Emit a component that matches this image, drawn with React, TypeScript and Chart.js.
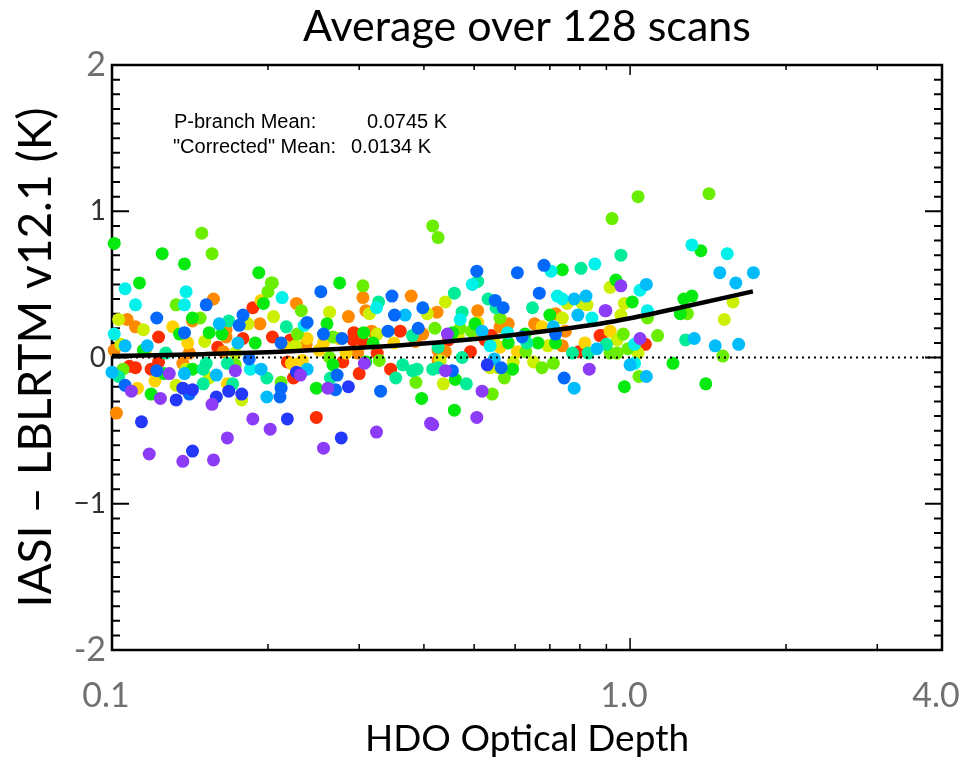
import React, { useEffect, useRef } from 'react';
import { Chart, registerables } from 'chart.js';

Chart.register(...registerables);

// ---- Text ----
const TITLE = 'Average over 128 scans';
const X_TITLE = 'HDO Optical Depth';
const Y_TITLE = 'IASI – LBLRTM v12.1 (K)';
const NOTE_LABELS = ['P-branch Mean:', '"Corrected" Mean:'];
const NOTE_VALUES = ['0.0745 K', '0.0134 K'];

// ---- Axes ----
const X_MIN = 0.1;
const X_MAX = 4.0;
const Y_MIN = -2;
const Y_MAX = 2;
const X_TICKS = [0.1, 0.2, 0.3, 0.4, 0.5, 0.6, 0.7, 0.8, 0.9, 1, 2, 3, 4];
const X_MAJOR = [0.1, 1];
const X_LABELED = [0.1, 1, 4];
const X_LABEL_TEXT = ['0.1', '1.0', '4.0'];
const Y_LABELED = [2, 1, 0, -1, -2];
const Y_LABEL_TEXT = ['2', '1', '0', '−1', '-2'];

// ---- Fit curve and zero reference ----
const FIT_X = [0.1, 0.15, 0.2, 0.3, 0.425, 0.6, 0.886, 1.0, 1.265, 1.726];
const FIT_Y = [0.01, 0.023, 0.036, 0.066, 0.103, 0.155, 0.234, 0.268, 0.345, 0.452];
const ZERO_X = [0.1, 4.0];
const ZERO_Y = [0, 0];

// ---- Scatter points, grouped by colour: [optical depth, difference K] ----
const PURPLE = [[0.129,-0.11],[0.109,-0.23],[0.124,-0.28],[0.156,-0.32],[0.173,-0.09],[0.118,-0.66],[0.137,-0.71],[0.157,-0.70],[0.167,-0.55],[0.187,-0.42],[0.202,-0.49],[0.231,-0.12],[0.307,-0.04],[0.261,-0.21],[0.256,-0.62],[0.324,-0.51],[0.412,-0.45],[0.416,-0.46],[0.444,0.16],[0.440,-0.09],[0.518,-0.23],[0.506,-0.41],[0.895,0.32],[0.834,-0.08],[0.96,0.49],[0.898,0.32],[1.045,0.13]];
const BLUE = [[0.137,-0.21],[0.133,-0.29],[0.143,-0.22],[0.159,-0.27],[0.168,-0.23],[0.178,-0.25],[0.114,-0.44],[0.143,-0.64],[0.227,-0.10],[0.286,-0.20],[0.218,-0.42],[0.277,-0.55],[0.530,-0.05]];
const AZURE = [[0.152,0.36],[0.122,0.27],[0.138,0.17],[0.179,0.29],[0.176,0.22],[0.184,-0.01],[0.122,-0.09],[0.106,-0.19],[0.141,-0.25],[0.253,0.45],[0.347,0.42],[0.351,0.29],[0.398,0.34],[0.238,0.24],[0.212,0.10],[0.256,0.16],[0.278,0.13],[0.341,0.18],[0.390,0.20],[0.272,-0.12],[0.212,-0.21],[0.211,-0.27],[0.270,-0.22],[0.330,-0.23],[0.506,0.59],[0.549,0.39],[0.569,0.34],[0.454,-0.09],[0.564,-0.07],[0.606,0.58],[0.668,0.44],[0.682,0.63],[0.619,0.14],[0.718,0.16],[0.746,-0.14]];
const SKY = [[0.161,0.23],[0.175,0.10],[0.106,0.08],[0.117,0.08],[0.100,-0.10],[0.138,-0.11],[0.159,-0.12],[0.194,-0.08],[0.199,-0.27],[0.368,0.29],[0.238,-0.08],[0.518,0.18],[0.547,-0.01],[0.780,0.40],[0.822,0.42],[0.793,0.29],[0.711,0.21],[0.863,0.06],[0.780,-0.21],[1.49,0.58],[1.60,0.51],[1.73,0.58],[1.075,0.50],[1.33,0.13],[1.46,0.08],[1.62,0.09],[1.00,-0.05],[1.075,-0.13]];
const CYAN = [[0.106,0.47],[0.111,0.36],[0.139,0.45],[0.138,0.36],[0.101,0.16],[0.185,-0.08],[0.213,0.41],[0.324,0.34],[0.235,0.22],[0.496,0.50],[0.470,0.26],[0.580,0.17],[0.537,0.08],[0.704,0.59],[0.855,0.64],[0.724,0.42],[0.740,0.40],[0.844,0.27],[1.316,0.77],[1.54,0.71],[1.045,0.46],[1.08,0.32],[1.02,0.09],[1.02,-0.04]];
const AQUA = [[0.168,0.25],[0.127,0.03],[0.103,-0.13],[0.150,-0.08],[0.152,-0.04],[0.150,-0.18],[0.167,-0.04],[0.171,-0.18],[0.199,-0.14],[0.327,0.38],[0.217,0.21],[0.380,0.15],[0.264,-0.14],[0.353,-0.14],[0.364,-0.05],[0.380,-0.09],[0.388,-0.08],[0.416,-0.08],[0.426,0.07],[0.508,0.52],[0.458,0.44],[0.474,0.31],[0.532,0.40],[0.551,0.34],[0.474,0.00],[0.426,-0.07],[0.483,-0.18],[0.648,0.34],[0.804,0.61],[0.632,0.10],[0.774,0.03],[0.830,0.03],[0.96,0.70],[0.90,0.09],[1.28,0.12]];
const GREEN = [[0.101,0.78],[0.125,0.71],[0.138,0.64],[0.113,0.51],[0.192,0.58],[0.196,0.37],[0.135,0.16],[0.143,0.27],[0.154,0.17],[0.163,0.16],[0.189,0.10],[0.115,0.05],[0.126,-0.11],[0.119,-0.25],[0.143,-0.08],[0.275,0.51],[0.260,0.23],[0.306,0.17],[0.319,0.10],[0.267,-0.05],[0.309,-0.03],[0.248,-0.21],[0.396,-0.28],[0.502,0.23],[0.454,0.17],[0.460,-0.15],[0.582,0.10],[0.593,-0.08],[0.458,-0.36],[0.740,0.60],[0.700,0.29],[0.627,0.16],[0.664,0.10],[0.718,0.10],[1.37,0.73],[0.939,0.53],[1.01,0.38],[1.27,0.40],[1.316,0.42],[1.25,0.30],[1.21,-0.04],[0.975,-0.20],[1.40,-0.18]];
const LIME = [[0.149,0.85],[0.156,0.71],[0.133,0.36],[0.203,0.51],[0.200,0.45],[0.148,0.27],[0.105,-0.08],[0.173,-0.05],[0.416,0.90],[0.426,0.82],[0.204,0.51],[0.305,0.49],[0.232,0.32],[0.228,0.16],[0.267,0.14],[0.420,0.20],[0.263,0.00],[0.328,-0.02],[0.386,-0.17],[0.212,-0.17],[0.561,0.27],[0.494,0.18],[0.470,0.20],[0.572,-0.14],[0.542,-0.25],[0.629,0.04],[0.676,-0.07],[0.711,-0.04],[1.036,1.10],[1.42,1.12],[0.923,0.95],[1.08,0.27],[1.29,0.30],[0.97,0.16],[0.99,0.06],[0.915,0.03],[0.944,0.03],[1.13,0.15],[1.04,-0.13],[1.51,0.01]];
const CHARTREUSE = [[0.103,0.26],[0.115,0.19],[0.151,0.11],[0.183,0.23],[0.205,0.28],[0.104,0.09],[0.173,0.03],[0.133,-0.19],[0.139,-0.08],[0.154,-0.14],[0.178,-0.29],[0.263,0.31],[0.314,0.30],[0.406,0.30],[0.226,0.08],[0.325,0.16],[0.440,0.38],[0.466,0.15],[0.547,0.10],[0.430,-0.02],[0.436,-0.18],[0.537,-0.07],[0.556,-0.07],[0.595,-0.03],[0.756,0.37],[0.808,0.37],[0.826,0.36],[0.740,0.27],[0.694,0.08],[0.651,-0.03],[0.915,0.48],[0.975,0.37],[0.96,0.29],[1.58,0.38],[1.52,0.26],[0.944,0.12],[1.036,0.03]];
const GOLD = [[0.194,0.39],[0.131,0.21],[0.140,0.10],[0.116,0.05],[0.121,-0.16],[0.112,-0.21],[0.167,-0.18],[0.238,0.13],[0.215,0.08],[0.274,0.13],[0.256,0.10],[0.251,0.05],[0.350,0.10],[0.283,0.03],[0.222,-0.04],[0.233,-0.02],[0.508,0.24],[0.506,0.17],[0.561,0.07],[0.676,0.21],[0.606,0.04],[0.818,0.10],[0.915,0.18]];
const ORANGE = [[0.157,0.40],[0.107,0.26],[0.111,0.21],[0.143,0.25],[0.166,0.19],[0.166,0.14],[0.193,0.23],[0.101,0.05],[0.141,0.03],[0.164,0.04],[0.137,-0.04],[0.102,-0.38],[0.305,0.41],[0.378,0.42],[0.227,0.37],[0.286,0.28],[0.309,0.32],[0.424,0.31],[0.237,0.09],[0.317,0.18],[0.398,0.16],[0.385,0.11],[0.298,0.03],[0.426,-0.02],[0.508,0.32],[0.561,0.21],[0.582,0.23],[0.426,0.05],[0.440,0.04],[0.718,0.30],[0.654,0.23],[0.740,0.08],[0.750,0.18]];
const RED = [[0.187,0.34],[0.123,0.14],[0.179,0.13],[0.204,0.14],[0.160,0.07],[0.108,-0.06],[0.111,-0.07],[0.119,-0.08],[0.123,-0.03],[0.221,0.12],[0.293,0.17],[0.292,0.12],[0.306,0.10],[0.360,0.18],[0.325,0.03],[0.218,-0.03],[0.224,-0.14],[0.279,-0.03],[0.300,-0.11],[0.345,-0.08],[0.248,-0.41],[0.446,0.12],[0.540,0.15],[0.525,0.12],[0.492,0.04],[0.797,0.04],[0.875,0.15],[0.88,0.15],[1.07,0.09]];

const HUE_GROUPS: [string, number[][]][] = [
  ['#8c3cf6', PURPLE],
  ['#2438fb', BLUE],
  ['#0468fb', AZURE],
  ['#00bcfa', SKY],
  ['#00f0ea', CYAN],
  ['#00ec98', AQUA],
  ['#06ea10', GREEN],
  ['#6aee00', LIME],
  ['#ccf000', CHARTREUSE],
  ['#ffd200', GOLD],
  ['#ff8a00', ORANGE],
  ['#ff2e00', RED],
];

const FONT = 'Lato, "Open Sans", sans-serif';
const near = (a: number, b: number) => Math.abs(a - b) < 1e-6;
const isEnd = (c: any) => !!(c && c.tick && Math.abs(c.tick.value) > 1.5);

const framePlugin = {
  id: 'frame',
  beforeDatasetsDraw(chart: any) {
    const { ctx, chartArea: a, scales } = chart;
    const xs = scales.x;
    const ys = scales.y;
    ctx.save();
    ctx.strokeStyle = '#000';
    ctx.lineWidth = 2;
    (ys.ticks || []).forEach((t: any) => {
      const py = ys.getPixelForValue(t.value);
      const len = near(t.value, Math.round(t.value)) ? 17 : 8;
      ctx.beginPath();
      ctx.moveTo(a.left, py);
      ctx.lineTo(a.left + len, py);
      ctx.moveTo(a.right, py);
      ctx.lineTo(a.right - len, py);
      ctx.stroke();
    });
    ctx.lineWidth = 1.5;
    (xs.ticks || []).forEach((t: any) => {
      const px = xs.getPixelForValue(t.value);
      const major = X_MAJOR.some((m) => near(m, t.value));
      const lenB = major ? 12 : 6;
      const lenT = major ? 10 : 5;
      ctx.beginPath();
      ctx.moveTo(px, a.bottom);
      ctx.lineTo(px, a.bottom - lenB);
      ctx.moveTo(px, a.top);
      ctx.lineTo(px, a.top + lenT);
      ctx.stroke();
    });
    ctx.lineWidth = 2.5;
    ctx.strokeRect(a.left, a.top, a.right - a.left, a.bottom - a.top);

    ctx.fillStyle = '#000';
    ctx.font = '20px "Liberation Sans", Arial, sans-serif';
    ctx.textBaseline = 'alphabetic';
    ctx.textAlign = 'left';
    ctx.fillText(NOTE_LABELS[0], a.left + 62, a.top + 63);
    ctx.fillText(NOTE_VALUES[0], a.left + 255, a.top + 63);
    ctx.fillText(NOTE_LABELS[1], a.left + 61, a.top + 88);
    ctx.fillText(NOTE_VALUES[1], a.left + 239, a.top + 88);
    ctx.restore();
  },
};

export default function App() {
  const ref = useRef<HTMLCanvasElement | null>(null);

  useEffect(() => {
    if (!ref.current) return;
    const scatterSets = HUE_GROUPS.map(([color, pts], i) => ({
      type: 'scatter' as const,
      data: pts.map(([x, y]) => ({ x, y })),
      pointRadius: 6.5,
      pointHoverRadius: 6.5,
      pointBackgroundColor: color,
      backgroundColor: color,
      pointBorderWidth: 0,
      borderWidth: 0,
      clip: false as any,
      order: 10 + i,
    }));
    const chart = new Chart(ref.current, {
      type: 'scatter',
      data: {
        datasets: [
          {
            type: 'line',
            data: FIT_X.map((x, i) => ({ x, y: FIT_Y[i] })),
            borderColor: '#000',
            borderWidth: 4.5,
            pointRadius: 0,
            cubicInterpolationMode: 'monotone',
            fill: false,
            order: 0,
          } as any,
          {
            type: 'line',
            data: ZERO_X.map((x, i) => ({ x, y: ZERO_Y[i] })),
            borderColor: '#000',
            borderWidth: 2,
            borderDash: [2, 4],
            pointRadius: 0,
            fill: false,
            order: 1,
          } as any,
          ...scatterSets,
        ],
      },
      options: {
        responsive: false,
        animation: false,
        events: [],
        layout: { padding: { left: 0, right: 17, top: 0, bottom: 0 } },
        plugins: {
          legend: { display: false },
          tooltip: { enabled: false },
          title: {
            display: true,
            fullSize: false,
            text: TITLE,
            color: '#000',
            font: { family: FONT, size: 43, weight: 'normal' },
            padding: { top: 1, bottom: 12.4 },
          },
        },
        scales: {
          x: {
            type: 'logarithmic',
            min: X_MIN,
            max: X_MAX,
            afterBuildTicks: (s: any) => {
              s.ticks = X_TICKS.map((v) => ({ value: v }));
            },
            afterFit: (s: any) => {
              s.height = 114;
              s.paddingLeft = 0;
              s.paddingRight = 0;
            },
            grid: { display: false, drawTicks: false },
            border: { display: false },
            ticks: {
              autoSkip: false,
              maxRotation: 0,
              minRotation: 0,
              padding: 26,
              labelOffset: -6,
              color: '#707070',
              font: { family: FONT, size: 34 },
              callback: (v: any) => {
                const i = X_LABELED.findIndex((m) => near(m, Number(v)));
                return i >= 0 ? X_LABEL_TEXT[i] : '';
              },
            },
            title: {
              display: true,
              text: X_TITLE,
              color: '#000',
              font: { family: FONT, size: 37 },
              padding: { top: 0, bottom: 3 },
            },
          } as any,
          y: {
            type: 'linear',
            min: Y_MIN,
            max: Y_MAX,
            afterFit: (s: any) => {
              s.width = 112;
              s.paddingTop = 0;
              s.paddingBottom = 0;
            },
            grid: { display: false, drawTicks: false },
            border: { display: false },
            ticks: {
              stepSize: 0.1,
              maxTicksLimit: 100,
              autoSkip: false,
              padding: 6,
              color: (c: any) => (isEnd(c) ? '#707070' : '#333333'),
              font: (c: any) => (isEnd(c) ? { family: FONT, size: 34 } : { family: FONT, size: 28 }),
              callback: (v: any) => {
                const i = Y_LABELED.findIndex((m) => near(m, Number(v)));
                return i >= 0 ? Y_LABEL_TEXT[i] : '';
              },
            },
            title: {
              display: true,
              text: Y_TITLE,
              color: '#000',
              font: { family: FONT, size: 46 },
              padding: { top: 9, bottom: 0 },
            },
          } as any,
        },
      },
      plugins: [framePlugin],
    });
    return () => chart.destroy();
  }, []);

  return (
    <div style={{ position: 'absolute', left: 0, top: 0, width: 959, height: 764, background: '#fff' }}>
      <canvas ref={ref} width={959} height={764} style={{ display: 'block' }} />
    </div>
  );
}
